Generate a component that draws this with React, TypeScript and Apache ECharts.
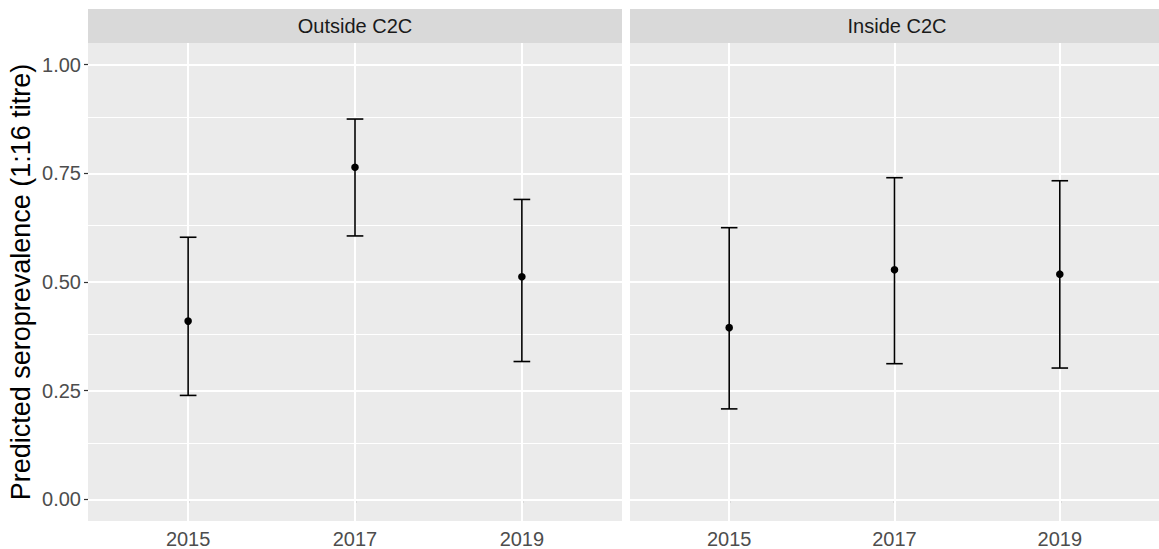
import React, { useEffect, useRef } from "react";
import * as echarts from "echarts";

const years = ["2015", "2017", "2019"];
const panels = ["Outside C2C", "Inside C2C"];

const outsideEst = [0.41, 0.764, 0.512];
const outsideLow = [0.239, 0.606, 0.317];
const outsideHigh = [0.603, 0.875, 0.69];

const insideEst = [0.395, 0.528, 0.518];
const insideLow = [0.208, 0.312, 0.302];
const insideHigh = [0.625, 0.74, 0.733];

const yTicks = [0, 0.25, 0.5, 0.75, 1];
const yMinor = [0.125, 0.375, 0.625, 0.875];
const yTickLabels = ["0.00", "0.25", "0.50", "0.75", "1.00"];

const FONT = "Liberation Sans, Arial, sans-serif";

const PANEL_W = 534;
const PANEL_LEFTS = [88, 630];
const PANEL_TOP = 43;
const PANEL_H = 478;

export default function App() {
  const ref = useRef<HTMLDivElement>(null);
  useEffect(() => {
    if (!ref.current) return;
    const chart = echarts.init(ref.current, null, { renderer: "svg" });
    const xIdx = years.map((_, i) => i + 1);

    const grids = PANEL_LEFTS.map((l) => ({
      left: l,
      top: PANEL_TOP,
      width: PANEL_W,
      height: PANEL_H,
      show: true,
      backgroundColor: "#EBEBEB",
      borderWidth: 0,
    }));

    const xAxes = PANEL_LEFTS.map((_, gi) => ({
      type: "value",
      gridIndex: gi,
      min: 0.4,
      max: 3.6,
      axisLine: { show: false },
      splitLine: { show: false },
      axisTick: {
        show: true,
        customValues: xIdx,
        length: 4,
        lineStyle: { color: "#333333", width: 1.2 },
      },
      axisLabel: {
        show: true,
        customValues: xIdx,
        formatter: (v: number) => years[Math.round(v) - 1] ?? "",
        color: "#4D4D4D",
        fontSize: 20,
        fontFamily: FONT,
        margin: 8,
      },
    }));

    const yAxes = PANEL_LEFTS.map((_, gi) => ({
      type: "value",
      gridIndex: gi,
      min: -0.05,
      max: 1.05,
      axisLine: { show: false },
      splitLine: { show: false },
      axisTick: {
        show: gi === 0,
        customValues: yTicks,
        length: 4,
        lineStyle: { color: "#333333", width: 1.2 },
      },
      axisLabel: {
        show: gi === 0,
        customValues: yTicks,
        formatter: (v: number) => {
          const i = yTicks.findIndex((t) => Math.abs(t - v) < 1e-6);
          return i >= 0 ? yTickLabels[i] : "";
        },
        color: "#4D4D4D",
        fontSize: 20,
        fontFamily: FONT,
        margin: 7,
      },
    }));

    const gridSeries = PANEL_LEFTS.map((_, gi) => ({
      type: "scatter",
      xAxisIndex: gi,
      yAxisIndex: gi,
      data: [],
      silent: true,
      z: 1,
      markLine: {
        silent: true,
        symbol: "none",
        label: { show: false },
        animation: false,
        data: [
          ...yMinor.map((v) => ({ yAxis: v, lineStyle: { color: "#FFFFFF", width: 1, type: "solid" } })),
          ...yTicks.map((v) => ({ yAxis: v, lineStyle: { color: "#FFFFFF", width: 2, type: "solid" } })),
          ...xIdx.map((v) => ({ xAxis: v, lineStyle: { color: "#FFFFFF", width: 2, type: "solid" } })),
        ],
      },
    }));

    const panelData = [
      [outsideEst, outsideLow, outsideHigh],
      [insideEst, insideLow, insideHigh],
    ];

    const barSeries = panelData.map(([est, low, high], gi) => ({
      type: "custom",
      xAxisIndex: gi,
      yAxisIndex: gi,
      z: 5,
      data: est.map((e, i) => [xIdx[i], low[i], high[i], e]),
      renderItem: (params: any, api: any) => {
        const x = api.value(0);
        const lo = api.coord([x, api.value(1)]);
        const hi = api.coord([x, api.value(2)]);
        const pt = api.coord([x, api.value(3)]);
        const half = api.size([0.1, 0])[0] / 2;
        const ls = { stroke: "#000000", lineWidth: 1.6 };
        return {
          type: "group",
          children: [
            { type: "line", shape: { x1: lo[0], y1: lo[1], x2: hi[0], y2: hi[1] }, style: ls },
            { type: "line", shape: { x1: lo[0] - half, y1: lo[1], x2: lo[0] + half, y2: lo[1] }, style: ls },
            { type: "line", shape: { x1: hi[0] - half, y1: hi[1], x2: hi[0] + half, y2: hi[1] }, style: ls },
            { type: "circle", shape: { cx: pt[0], cy: pt[1], r: 3.8 }, style: { fill: "#000000" } },
          ],
        };
      },
    }));

    const graphics: any[] = [];
    PANEL_LEFTS.forEach((l, i) => {
      graphics.push({
        type: "rect",
        shape: { x: l, y: 9, width: PANEL_W, height: 34 },
        style: { fill: "#D9D9D9" },
        silent: true,
      });
      graphics.push({
        type: "text",
        x: l + PANEL_W / 2,
        y: 26,
        style: {
          text: panels[i],
          fontSize: 20,
          fontFamily: FONT,
          fill: "#1A1A1A",
          textAlign: "center",
          textVerticalAlign: "middle",
        },
        silent: true,
      });
    });
    graphics.push({
      type: "text",
      x: 21,
      y: 282,
      rotation: Math.PI / 2,
      style: {
        text: "Predicted seroprevalence (1:16 titre)",
        fontSize: 27,
        fontFamily: FONT,
        fill: "#000000",
        textAlign: "center",
        textVerticalAlign: "middle",
      },
      silent: true,
    });

    chart.setOption({
      animation: false,
      backgroundColor: "#FFFFFF",
      grid: grids,
      xAxis: xAxes,
      yAxis: yAxes,
      series: [...gridSeries, ...barSeries],
      graphic: graphics,
    });
    return () => chart.dispose();
  }, []);
  return (
    <div
      ref={ref}
      style={{ position: "fixed", left: 0, top: 0, width: 1159, height: 549 }}
    />
  );
}
